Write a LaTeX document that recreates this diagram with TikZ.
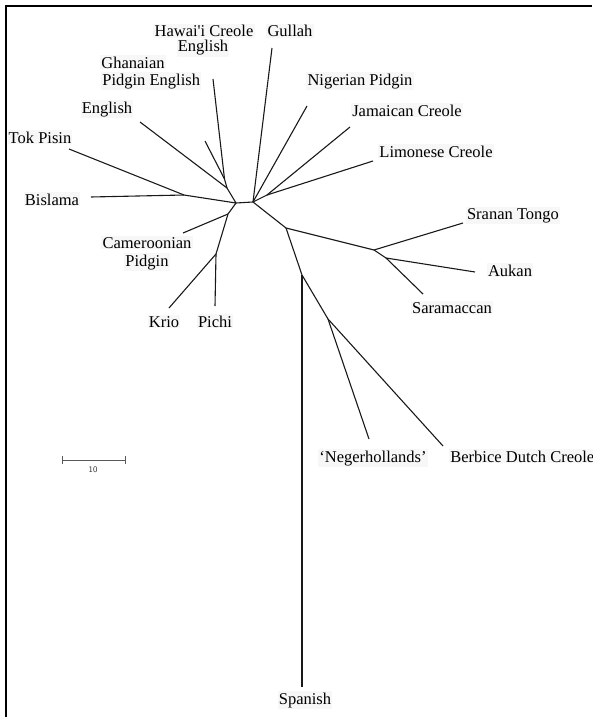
\documentclass[tikz,border=0pt]{standalone}
\usepackage{fontspec}
\setmainfont{Liberation Serif}[Ligatures=TeXOff]
\begin{document}
\begin{tikzpicture}[x=1pt,y=-1pt,
  br/.style={line width=1.1pt, black!90},
  lab/.style={font=\fontsize{16.5}{18}\selectfont, fill=black!3, inner sep=1.2pt, anchor=base},
  scalebar/.style={line width=0.9pt, black!65}]
\useasboundingbox (0,0) rectangle (592,717);
\draw[line width=2.5pt] (6,717) -- (6,6) -- (592,6);
% internal nodes
\coordinate (L) at (236,203);
\coordinate (R) at (253,202);
\coordinate (TB) at (184,195);
\coordinate (H) at (227,188);
\coordinate (H2) at (224.5,179);
\coordinate (J) at (267,195);
\coordinate (A) at (286,228);
\coordinate (B) at (374,250);
\coordinate (C) at (386,258);
\coordinate (D) at (302,275);
\coordinate (E) at (328,319);
\coordinate (F) at (228,214);
\coordinate (G) at (216,254);
% leaf ends
\coordinate (tokE) at (69,149);
\coordinate (bisE) at (91,197);
\coordinate (engE) at (140,122);
\coordinate (ghaE) at (213,79);
\coordinate (shE) at (205,141);
\coordinate (gulE) at (272,48);
\coordinate (nigE) at (307,106);
\coordinate (jamE) at (350,127);
\coordinate (limE) at (373,161);
\coordinate (sraE) at (463,223);
\coordinate (aukE) at (475,272);
\coordinate (sarE) at (423,294);
\coordinate (negE) at (369,439);
\coordinate (berE) at (443,446);
\coordinate (spaE) at (302,687);
\coordinate (camE) at (183,233);
\coordinate (kriE) at (169,308);
\coordinate (picE) at (215,306);
% branches
\draw[br] (L) -- (R);
\draw[br] (tokE) -- (TB) -- (L);
\draw[br] (bisE) -- (TB);
\draw[br] (engE) -- (H) -- (L);
\draw[br] (ghaE) -- (H2) -- (H);
\draw[br] (shE) -- (H2);
\draw[br] (gulE) -- (R);
\draw[br] (nigE) -- (R);
\draw[br] (jamE) -- (J) -- (R);
\draw[br] (limE) -- (J);
\draw[br] (R) -- (A) -- (B) -- (sraE);
\draw[br] (B) -- (C) -- (aukE);
\draw[br] (C) -- (sarE);
\draw[br] (A) -- (D) -- (E) -- (negE);
\draw[br] (E) -- (berE);
\draw[br] (D) -- (spaE);
\draw[br] (L) -- (F) -- (G) -- (kriE);
\draw[br] (camE) -- (F);
\draw[br] (G) -- (picE);
% labels
\node[lab] (haw1) at (204,37) {Hawai'i Creole};
\node[lab] (haw2) at (203,52) {English};
\node[lab] (gul) at (290,37) {Gullah};
\node[lab, anchor=base west] (gha1) at (100,68) {Ghanaian};
\node[lab, anchor=base west] (gha2) at (101,85) {Pidgin English};
\node[lab] (eng) at (107,113) {English};
\node[lab] (tok) at (40,143) {Tok Pisin};
\node[lab] (bis) at (52,205) {Bislama};
\node[lab] (cam1) at (147,248) {Cameroonian};
\node[lab] (cam2) at (147,266) {Pidgin};
\node[lab] (kri) at (164,327) {Krio};
\node[lab] (pic) at (215,327) {Pichi};
\node[lab] (nig) at (360,85) {Nigerian Pidgin};
\node[lab] (jam) at (407,116) {Jamaican Creole};
\node[lab] (lim) at (436,157) {Limonese Creole};
\node[lab] (sra) at (513,219) {Sranan Tongo};
\node[lab] (auk) at (510,276) {Aukan};
\node[lab] (sar) at (452,313) {Saramaccan};
\node[lab] (neg) at (373,462) {‘Negerhollands’};
\node[lab, anchor=base west] (ber) at (449,462) {Berbice Dutch Creole};
\node[lab] (spa) at (305,704) {Spanish};
% scale bar
\coordinate (s1) at (62,460);
\coordinate (s2) at (125,460);
\draw[scalebar] (s1) -- (s2);
\draw[scalebar] ([yshift=-4pt]s1) -- ([yshift=4pt]s1);
\draw[scalebar] ([yshift=-4pt]s2) -- ([yshift=4pt]s2);
\node[font=\sffamily\fontsize{8.5}{9}\selectfont, text=black!80, anchor=base] (sc) at (93,472) {10};
\end{tikzpicture}
\end{document}
